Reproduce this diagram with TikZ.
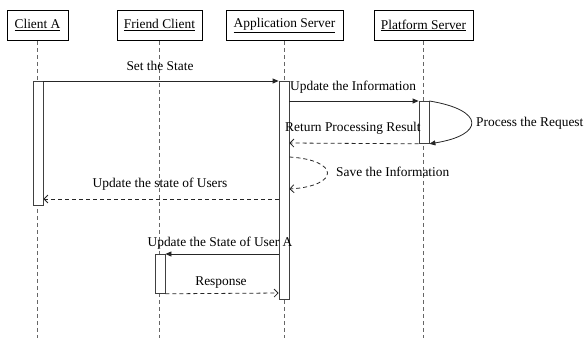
\documentclass[tikz,border=0pt]{standalone}
\usepackage{fontspec}
\setmainfont{Liberation Serif}
\usetikzlibrary{arrows.meta}
\begin{document}
\begin{tikzpicture}[x=1pt,y=-1pt,
  every node/.style={font=\fontsize{13.4}{16}\selectfont},
  actor/.style={draw=black,line width=0.8pt,minimum height=30pt,inner sep=0pt,anchor=north},
  lifeline/.style={draw=black!60,dashed,line width=0.8pt,dash pattern=on 4pt off 3pt},
  actbar/.style={draw=black!75,fill=white,line width=0.8pt,minimum width=10pt,inner sep=0pt,anchor=north},
  callmsg/.style={draw=black!85,line width=0.8pt,-{Triangle[length=6pt,width=5pt]}},
  replymsg/.style={draw=black!85,line width=0.8pt,dashed,dash pattern=on 4pt off 3pt,-{Straight Barb[length=4pt,width=8pt]}},
  lbl/.style={inner sep=0pt}]
\useasboundingbox (0,0) rectangle (585,338);

% participants
\node[actor,minimum width=61pt] (ca) at (37.5,10) {\underline{Client A}};
\node[actor,minimum width=85pt] (fc) at (159.5,10) {\underline{Friend Client}};
\node[actor,minimum width=117pt] (as) at (284.5,10) {\underline{Application Server}};
\node[actor,minimum width=99pt] (ps) at (423.5,10) {\underline{Platform Server}};

% lifeline ends
\coordinate (caend) at (37.5,338);
\coordinate (fcend) at (159.5,338);
\coordinate (asend) at (284.5,338);
\coordinate (psend) at (423.5,338);
\draw[lifeline] (ca.south) -- (caend);
\draw[lifeline] (fc.south) -- (fcend);
\draw[lifeline] (as.south) -- (asend);
\draw[lifeline] (ps.south) -- (psend);

% activation bars
\node[actbar,minimum height=124pt] (cabar) at (38,81) {};
\node[actbar,minimum height=218pt] (asbar) at (284,81) {};
\node[actbar,minimum height=42pt] (psbar) at (424,101) {};
\node[actbar,minimum height=39pt] (fcbar) at (160,254) {};

% message rows on the application server bar
\coordinate (r2) at (0,101);
\coordinate (r4) at (0,143);
\coordinate (r5a) at (0,157);
\coordinate (r5b) at (0,189);
\coordinate (r6) at (0,199);
\coordinate (r7) at (0,254);
\coordinate (r8) at (0,293);

% messages
\draw[callmsg] (cabar.north east) -- (asbar.north west);
\node[lbl] (t1) at (160,66) {Set the State};

\draw[callmsg] (asbar.east |- r2) -- (psbar.north west);
\node[lbl,anchor=west] (t2) at (290,87) {Update the Information};

\draw[callmsg] (psbar.north east) .. controls (485,110) and (485,135) .. (psbar.south east);
\node[lbl,anchor=west] (t3) at (476,123) {Process the Request};

\draw[replymsg] (psbar.south west) -- (asbar.east |- r4);
\node[lbl,anchor=west] (t4) at (285,128) {Return Processing Result};

\draw[replymsg] (asbar.east |- r5a) .. controls (340,160) and (340,186) .. (asbar.east |- r5b);
\node[lbl,anchor=west] (t5) at (336,172) {Save the Information};

\draw[replymsg] (asbar.west |- r6) -- (cabar.east |- r6);
\node[lbl] (t6) at (160,184) {Update the state of Users};

\draw[callmsg] (asbar.west |- r7) -- (fcbar.north east);
\node[lbl] (t7) at (220,243) {Update the State of User A};

\draw[replymsg] (fcbar.south east) -- (asbar.west |- r8);
\node[lbl] (t8) at (221,283) {Response};
\end{tikzpicture}
\end{document}
